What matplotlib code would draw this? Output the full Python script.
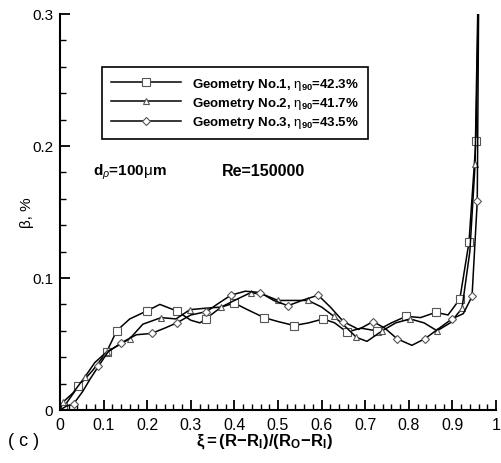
import numpy as np
import matplotlib.pyplot as plt
from matplotlib.ticker import MultipleLocator

plt.rcParams['font.family'] = ['Liberation Sans', 'DejaVu Sans']
plt.rcParams['mathtext.fontset'] = 'custom'
plt.rcParams['mathtext.rm'] = 'Liberation Sans'
plt.rcParams['mathtext.it'] = 'Liberation Sans:italic'
plt.rcParams['mathtext.bf'] = 'Liberation Sans:bold'

# ---------------------------------------------
# Daten
# ---------------------------------------------
# Geometry No.1 (Quadrate)
x1 = [0.0, 0.008, 0.042, 0.075, 0.107, 0.13, 0.16, 0.199, 0.229, 0.268, 0.30, 0.321,
      0.334, 0.37, 0.40, 0.43, 0.468, 0.50, 0.537, 0.57, 0.604, 0.63, 0.658, 0.69,
      0.726, 0.76, 0.794, 0.827, 0.862, 0.89, 0.917, 0.938, 0.954, 0.959]
y1 = [0.0, 0.002, 0.018, 0.030, 0.044, 0.060, 0.069, 0.075, 0.080, 0.075, 0.068, 0.066,
      0.069, 0.078, 0.081, 0.076, 0.070, 0.067, 0.064, 0.066, 0.069, 0.066, 0.059, 0.062,
      0.060, 0.066, 0.071, 0.070, 0.074, 0.072, 0.084, 0.127, 0.204, 0.300]
m1 = [1, 2, 4, 5, 7, 9, 12, 14, 16, 18, 20, 22, 24, 26, 28, 30, 31, 32]

# Geometry No.2 (Dreiecke)
x2 = [0.0, 0.007, 0.03, 0.057, 0.08, 0.107, 0.134, 0.16, 0.19, 0.232, 0.266, 0.298,
      0.33, 0.37, 0.40, 0.438, 0.47, 0.50, 0.535, 0.569, 0.60, 0.628, 0.655, 0.68,
      0.704, 0.739, 0.77, 0.803, 0.835, 0.865, 0.895, 0.922, 0.94, 0.952, 0.958]
y2 = [0.0, 0.006, 0.013, 0.025, 0.036, 0.044, 0.049, 0.054, 0.065, 0.070, 0.069, 0.076,
      0.077, 0.078, 0.083, 0.089, 0.087, 0.083, 0.083, 0.083, 0.078, 0.071, 0.063, 0.055,
      0.052, 0.060, 0.066, 0.069, 0.066, 0.060, 0.066, 0.077, 0.120, 0.186, 0.300]
m2 = [1, 3, 5, 7, 9, 11, 13, 15, 17, 19, 21, 23, 25, 27, 29, 31, 33]

# Geometry No.3 (Rauten)
x3 = [0.0, 0.015, 0.031, 0.052, 0.07, 0.088, 0.11, 0.141, 0.175, 0.21, 0.24, 0.268,
      0.30, 0.336, 0.36, 0.392, 0.425, 0.459, 0.49, 0.523, 0.555, 0.592, 0.62, 0.65,
      0.685, 0.718, 0.745, 0.773, 0.807, 0.837, 0.87, 0.899, 0.925, 0.945, 0.957, 0.96]
y3 = [0.0, 0.003, 0.0045, 0.014, 0.024, 0.033, 0.044, 0.051, 0.057, 0.058, 0.062, 0.066,
      0.072, 0.0745, 0.080, 0.087, 0.090, 0.089, 0.083, 0.079, 0.083, 0.087, 0.078, 0.067,
      0.061, 0.067, 0.062, 0.054, 0.049, 0.054, 0.062, 0.069, 0.073, 0.086, 0.158, 0.300]
m3 = [2, 5, 7, 9, 11, 13, 15, 17, 19, 21, 23, 25, 27, 29, 31, 33, 34]

labels = [r"Geometry No.1, $\mathrm{\eta}_{\mathbf{90}}$=42.3%",
          r"Geometry No.2, $\mathrm{\eta}_{\mathbf{90}}$=41.7%",
          r"Geometry No.3, $\mathrm{\eta}_{\mathbf{90}}$=43.5%"]
markers = ["s", "^", "D"]
msizes = [6, 5, 4.5]

# ---------------------------------------------
# Plot
# ---------------------------------------------
W, H = 502, 464
fig = plt.figure(figsize=(W / 100, H / 100), dpi=100)
ax = fig.add_axes([60 / W, 53 / H, 436 / W, 396 / H])

for xs, ys, mk, m, ms, lab in zip([x1, x2, x3], [y1, y2, y3], [m1, m2, m3],
                                  markers, msizes, labels):
    ax.plot(xs, ys, color="black", lw=1.1, marker=m, ms=ms, markevery=mk,
            mfc="white", mec="#555555", mew=0.8, label=lab)

ax.set_xlim(0, 1)
ax.set_ylim(0, 0.3)
ax.spines["top"].set_visible(False)
ax.spines["right"].set_visible(False)
ax.spines["left"].set_linewidth(1.5)
ax.spines["bottom"].set_linewidth(1.5)
ax.xaxis.set_minor_locator(MultipleLocator(0.02))
ax.yaxis.set_minor_locator(MultipleLocator(0.02))
ax.set_xticks(np.arange(0, 1.01, 0.1))
ax.set_xticklabels(["0", "0.1", "0.2", "0.3", "0.4", "0.5", "0.6", "0.7", "0.8", "0.9", "1"])
ax.set_yticks([0, 0.1, 0.2, 0.3])
ax.set_yticklabels(["0", "0.1", "0.2", "0.3"])
ax.tick_params(which="major", direction="in", length=7, width=1.3, pad=5)
ax.tick_params(which="minor", direction="in", length=4, width=1.0)
ax.tick_params(axis="x", labelsize=11.5)
ax.tick_params(axis="y", labelsize=11)

leg = ax.legend(loc="upper left", bbox_to_anchor=(102 / W, 1 - 68 / H),
                bbox_transform=fig.transFigure, borderaxespad=0,
                prop={"weight": "bold", "size": 9.5},
                handlelength=5.3, handletextpad=0.9, labelspacing=0.25,
                borderpad=0.65, fancybox=False, framealpha=1, edgecolor="black")
leg.get_frame().set_linewidth(1.2)

fig.text(93 / W, 1 - 172 / H, r"d$_{\rho}$=100$\mathrm{\mu}$m", fontsize=11, weight="bold",
         va="center")
fig.text(222 / W, 1 - 172 / H, "Re=150000", fontsize=11.5, weight="bold", va="center")

fig.text(27 / W, 1 - 213 / H, "β, %", fontsize=11, rotation=90,
         ha="center", va="center")
fig.text(265 / W, 1 - 442 / H,
         r"$\mathbf{\xi = (R\!-\!R_{I})/(R_{O}\!-\!R_{I})}$", fontsize=12,
         ha="center", va="center")
fig.text(8 / W, 1 - 442 / H, "( c )", fontsize=13, va="center")

fig.savefig("out.png", dpi=100)
